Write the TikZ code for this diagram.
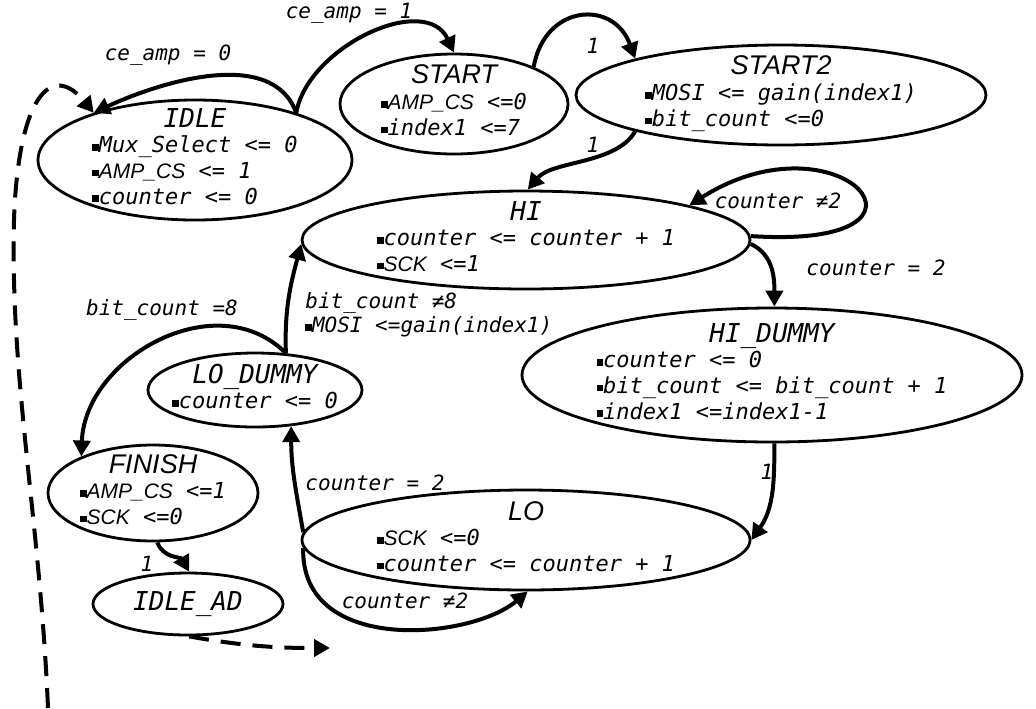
\documentclass[tikz,border=0pt]{standalone}
\usepackage{fontspec}
\setmonofont{DejaVu Sans Mono}
\newfontfamily\hvfont{Liberation Sans}
\usetikzlibrary{arrows.meta,shapes.geometric}

% fonts used inside the states and on the transitions
\newcommand\bodyfont{\ttfamily\itshape\fontsize{11}{12.8}\selectfont}
\newcommand\condfont{\ttfamily\itshape\fontsize{10.5}{12}\selectfont}
\newcommand\hvit[1]{{\hvfont\itshape\fontsize{10.5}{12.8}\selectfont #1}}
\newcommand\ttl[1]{{\fontsize{13}{12.8}\selectfont #1}}
\newcommand\sttl[1]{{\hvfont\itshape\fontsize{13.5}{12.8}\selectfont #1}}
\newcommand\bul{\rule[1pt]{3.3pt}{3.3pt}}
% state name centred over its list of actions
\newcommand\acts[2]{\begin{tabular}{@{}l@{}}\multicolumn{1}{@{}c@{}}{#1}\\#2\end{tabular}}

\begin{document}
\begin{tikzpicture}[x=0.5pt,y=0.5pt,
  state/.style={draw,ellipse,line width=1.4pt,inner xsep=-12pt,inner ysep=-14pt,font=\bodyfont},
  trans/.style={line width=2pt,-{Triangle[length=8pt,width=8.5pt]}},
  back/.style={trans,dash pattern=on 10pt off 6pt},
  cond/.style={font=\condfont,inner sep=1pt}]
\useasboundingbox (0,0) rectangle (1036,-708);

% states
\node[state,minimum width=157pt,minimum height=60pt] (idle) at (195,-160)
  {\acts{\ttl{IDLE}}{\bul Mux\_Select <= 0\\ \bul\hvit{AMP\_CS} <= 1\\ \bul counter <= 0}};
\node[state,minimum width=114pt,minimum height=50pt] (start) at (454,-104)
  {\acts{\sttl{START}}{\bul\hvit{AMP\_CS} <=0\\ \bul index1 <=7}};
\node[state,minimum width=205pt,minimum height=50pt] (start2) at (781,-95)
  {\acts{\sttl{START2}}{\bul MOSI <= gain(index1)\\ \bul bit\_count <=0}};
\node[state,minimum width=224pt,minimum height=49pt] (hi) at (526,-240)
  {\acts{\ttl{HI}}{\bul counter <= counter + 1\\ \bul\hvit{SCK} <=1}};
\node[state,minimum width=250pt,minimum height=67pt] (hidummy) at (772,-375)
  {\acts{\ttl{HI\_DUMMY}}{\bul counter <= 0\\ \bul bit\_count <= bit\_count + 1\\ \bul index1 <=index1-1}};
\node[state,minimum width=107pt,minimum height=37pt] (lodummy) at (255,-390)
  {\acts{\ttl{LO\_DUMMY}}{\bul counter <= 0}};
\node[state,minimum width=105pt,minimum height=48pt] (finish) at (153,-493)
  {\acts{\sttl{FINISH}}{\bul\hvit{AMP\_CS} <=1\\ \bul\hvit{SCK} <=0}};
\node[state,minimum width=224pt,minimum height=50pt] (lo) at (526,-540)
  {\acts{\sttl{LO}}{\bul\hvit{SCK} <=0\\ \bul counter <= counter + 1}};
\node[state,minimum width=95pt,minimum height=31pt] (idlead) at (188,-604)
  {\ttl{IDLE\_AD}};

\coordinate (adout) at (330,-648);
\coordinate (fromad) at (48,-708);

% transitions
\draw[trans] (idle.25) to[out=110,in=25,looseness=0.9] (idle.155);
\draw[trans] (idle.25) to[out=80,in=115,looseness=1.02] (start.90);
\draw[trans] (start.25) to[out=80,in=110,looseness=1.6] (start2.166);
\draw[trans] (start2.194) to[out=-120,in=50,looseness=0.8] (hi.88);
\draw[trans] (hi.1) .. controls (965,-250) and (840,-110) .. (hi.12);
\draw[trans] (hi.-1) to[out=-25,in=90] (hidummy.88);
\draw[trans] (hidummy.272) to[out=-90,in=55] (lo.0);
\draw[trans] (lo.178) to[out=100,in=-90] (lodummy.-45);
\draw[trans] (lo.182) .. controls (300,-655) and (470,-640) .. (lo.-88);
\draw[trans] (lodummy.50) to[out=92,in=-105] (hi.181);
\draw[trans] (lodummy.50) to[out=135,in=88,looseness=1.1] (finish.153);
\draw[trans] (finish.275) to[out=-70,in=120] (idlead.88);
\draw[back] (idlead.-88) to[out=-10,in=180] (adout);
\draw[back] (fromad) .. controls (40,-520) and (10,-380) .. (14,-220)
  .. controls (18,-100) and (50,-60) .. (idle.155);

% conditions
\node[cond] (c-amp0) at (168,-55) {ce\_amp = 0};
\node[cond] (c-amp1) at (349,-13) {ce\_amp = 1};
\node[cond] (c-st) at (593,-46) {1};
\node[cond] (c-st2) at (593,-145) {1};
\node[cond] (c-hiloop) at (778,-201) {counter ≠2};
\node[cond] (c-hi) at (876,-268) {counter = 2};
\node[cond] (c-hid) at (767,-472) {1};
\node[cond] (c-lo) at (375,-483) {counter = 2};
\node[cond] (c-loloop) at (405,-601) {counter ≠2};
\node[cond] (c-fin) at (162,-310) {bit\_count =8};
\node[cond,anchor=west,align=left] (c-lod) at (303,-315)
  {bit\_count ≠8\\ \bul MOSI <=gain(index1)};
\node[cond] (c-ad) at (147,-564) {1};
\end{tikzpicture}
\end{document}
